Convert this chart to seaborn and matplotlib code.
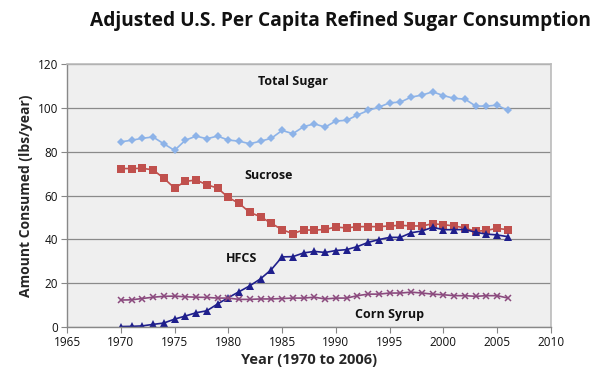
import numpy as np
import pandas as pd
import matplotlib
matplotlib.use("Agg")
import matplotlib.pyplot as plt
import seaborn as sns

years = list(range(1970, 2007))
total_sugar = [84.5, 85.2, 86.1, 86.7, 83.6, 80.6, 85.2, 87.1, 85.9, 87.1,
               85.3, 84.8, 83.6, 84.8, 86.1, 89.7, 88.2, 91.4, 92.7, 91.2,
               94.0, 94.3, 96.7, 98.8, 100.3, 102.3, 102.6, 104.9, 105.8, 107.3,
               105.6, 104.3, 104.0, 100.8, 100.8, 101.2, 98.8]
sucrose = [72.3, 72.3, 72.4, 71.7, 67.9, 63.4, 66.4, 67.1, 64.9, 63.4,
           59.1, 56.4, 52.3, 50.3, 47.3, 44.4, 42.6, 44.3, 44.2, 44.5,
           45.6, 45.2, 45.8, 45.8, 45.8, 46.1, 46.4, 46.1, 46.1, 47.1,
           46.7, 46.1, 45.2, 43.6, 44.1, 45.0, 44.4]
hfcs = [0.2, 0.3, 0.5, 1.2, 1.8, 3.6, 5.0, 6.5, 7.4, 10.5,
        13.4, 16.1, 18.8, 22.0, 26.2, 32.0, 32.1, 33.8, 34.5, 34.0,
        34.9, 35.3, 36.7, 38.6, 39.9, 40.9, 40.9, 43.0, 43.8, 45.5,
        44.4, 44.4, 44.5, 43.2, 42.4, 42.0, 41.2]
corn_syrup = [12.3, 12.4, 13.0, 13.6, 14.0, 14.1, 13.8, 13.6, 13.5, 13.2,
              13.2, 12.6, 12.6, 12.8, 12.8, 13.0, 13.2, 13.2, 13.6, 12.8,
              13.2, 13.2, 14.3, 15.0, 15.0, 15.5, 15.5, 15.9, 15.5, 15.0,
              14.7, 14.3, 14.3, 14.0, 14.3, 14.3, 13.2]

series_names = ["Total Sugar", "Sucrose", "HFCS", "Corn Syrup"]
series_values = [total_sugar, sucrose, hfcs, corn_syrup]
colors = ["#8db3e8", "#c0504d", "#1f1f8c", "#8b4a7e"]
markers = ["D", "s", "^", "x"]
msizes = [4.5, 5.2, 5.2, 4.5]
label_pos = [(1986.0, 112.1), (1983.7, 69.0), (1981.2, 31.2), (1995.0, 5.8)]

x_ticks = list(range(1965, 2011, 5))
y_ticks = list(range(0, 121, 20))

df = pd.DataFrame({
    "Year": years * len(series_names),
    "Value": sum(series_values, []),
    "Series": [n for n in series_names for _ in years],
})

sns.set_theme(style="white")
plt.rcParams["font.family"] = ["Open Sans", "DejaVu Sans"]

fig = plt.figure(figsize=(6.05, 3.83), dpi=100)
ax = fig.add_axes([0.1107, 0.1462, 0.80, 0.6867])
ax.set_facecolor("#efefef")

for name, col, mk, ms in zip(series_names, colors, markers, msizes):
    sub = df[df["Series"] == name]
    sns.lineplot(data=sub, x="Year", y="Value", ax=ax, color=col, marker=mk,
                 markersize=ms, markeredgecolor=col, markeredgewidth=1.1 if mk == "x" else 0,
                 linewidth=1.2, legend=False)

for name, (lx, ly) in zip(series_names, label_pos):
    ax.text(lx, ly, name, ha="center", va="center", fontsize=9,
            fontweight="bold", color="#111111")

ax.set_xlim(1965, 2010)
ax.set_ylim(0, 120)
ax.set_xticks(x_ticks)
ax.set_yticks(y_ticks)
ax.yaxis.grid(True, color="#8a8a8a", linewidth=0.9)
ax.xaxis.grid(False)
ax.tick_params(axis="both", labelsize=8.5, length=4, width=0.8, colors="#888888",
               labelcolor="#111111", direction="out", left=True, bottom=True, pad=2.5)
for s in ["top", "right"]:
    ax.spines[s].set_color("#bbbbbb")
    ax.spines[s].set_linewidth(1.2)
for s in ["left", "bottom"]:
    ax.spines[s].set_color("#888888")
    ax.spines[s].set_linewidth(1.0)

ax.set_xlabel("Year (1970 to 2006)", fontsize=10.5, fontweight="bold", labelpad=3)
ax.set_ylabel("Amount Consumed (lbs/year)", fontsize=10, fontweight="bold", labelpad=3)
fig.text(0.562, 0.945, "Adjusted U.S. Per Capita Refined Sugar Consumption",
         ha="center", va="center", fontsize=13.8, fontweight="bold", color="#111111")

fig.savefig("out.png", dpi=100)
